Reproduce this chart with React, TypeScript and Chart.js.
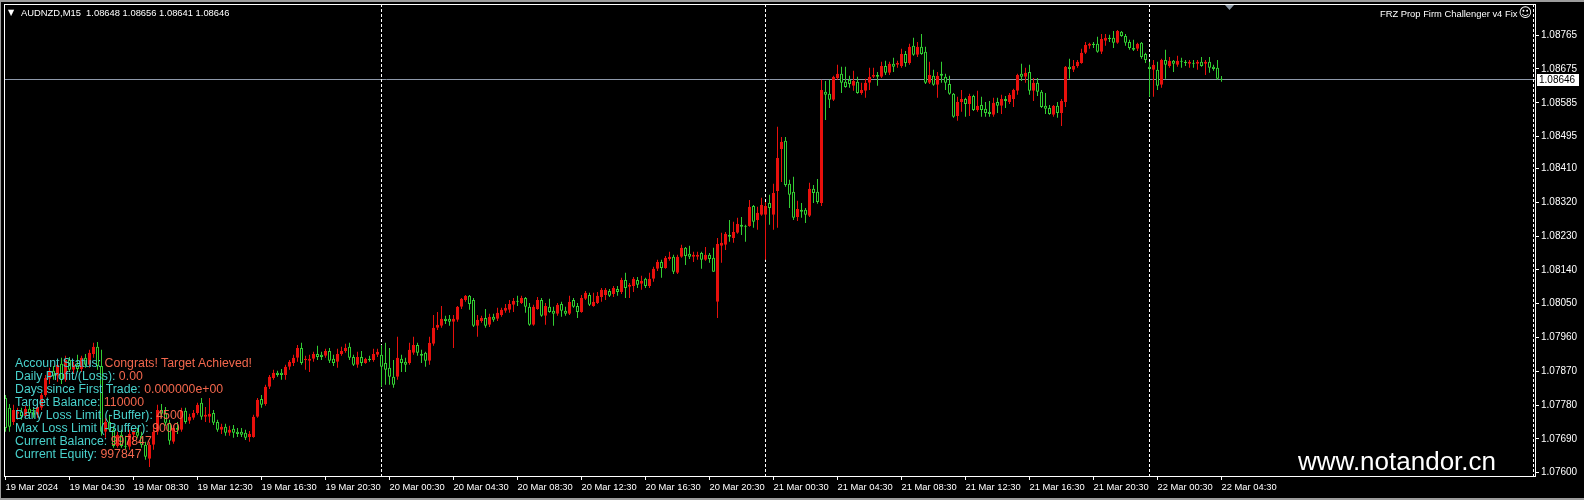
import React, { useEffect, useRef } from "react";
import { Chart, registerables } from "chart.js";

Chart.register(...registerables);

// AUDNZD M15 candles, 19 Mar 2024 00:30 .. 22 Mar 2024 04:30
const opens = [
  1.07799,1.07773,1.07735,1.07757,1.07762,1.07751,1.07770,1.07759,1.07754,1.07773,
  1.07807,1.07850,1.07871,1.07858,1.07890,1.07847,1.07900,1.07874,1.07887,1.07876,
  1.07906,1.07887,1.07916,1.07935,1.07884,1.07709,1.07735,1.07714,1.07671,1.07701,
  1.07671,1.07669,1.07701,1.07709,1.07698,1.07674,1.07637,1.07674,1.07709,1.07767,
  1.07759,1.07733,1.07682,1.07719,1.07714,1.07765,1.07738,1.07746,1.07759,1.07786,
  1.07749,1.07749,1.07759,1.07735,1.07714,1.07722,1.07706,1.07717,1.07709,1.07709,
  1.07706,1.07695,1.07695,1.07749,1.07796,1.07783,1.07829,1.07852,1.07866,1.07866,
  1.07860,1.07882,1.07892,1.07906,1.07932,1.07900,1.07898,1.07903,1.07916,1.07914,
  1.07911,1.07924,1.07903,1.07895,1.07916,1.07924,1.07935,1.07908,1.07887,1.07908,
  1.07892,1.07903,1.07900,1.07914,1.07914,1.07892,1.07879,1.07855,1.07855,1.07903,
  1.07895,1.07892,1.07919,1.07940,1.07916,1.07919,1.07898,1.07943,1.07986,1.07991,
  1.08010,1.08010,1.08002,1.08007,1.08042,1.08060,1.08071,1.08060,1.07991,1.08004,
  1.08012,1.07994,1.08015,1.08010,1.08020,1.08031,1.08034,1.08047,1.08057,1.08052,
  1.08065,1.08042,1.07994,1.08036,1.08060,1.08018,1.08042,1.08031,1.08023,1.08049,
  1.08031,1.08023,1.08060,1.08044,1.08028,1.08063,1.08073,1.08044,1.08052,1.08068,
  1.08073,1.08084,1.08076,1.08089,1.08081,1.08113,1.08095,1.08097,1.08113,1.08103,
  1.08116,1.08097,1.08116,1.08143,1.08161,1.08145,1.08169,1.08175,1.08132,1.08175,
  1.08199,1.08183,1.08175,1.08175,1.08185,1.08167,1.08180,1.08172,1.08055,1.08204,
  1.08207,1.08233,1.08225,1.08239,1.08260,1.08257,1.08257,1.08310,1.08273,1.08287,
  1.08287,1.08318,1.08287,1.08350,1.08462,1.08484,1.08369,1.08348,1.08281,1.08300,
  1.08300,1.08284,1.08356,1.08348,1.08318,1.08614,1.08609,1.08593,1.08651,1.08662,
  1.08641,1.08646,1.08630,1.08641,1.08611,1.08617,1.08638,1.08654,1.08659,1.08654,
  1.08683,1.08665,1.08689,1.08686,1.08683,1.08715,1.08691,1.08737,1.08713,1.08734,
  1.08721,1.08638,1.08657,1.08633,1.08662,1.08654,1.08635,1.08609,1.08550,1.08587,
  1.08595,1.08582,1.08603,1.08566,1.08579,1.08569,1.08561,1.08553,1.08587,1.08577,
  1.08595,1.08587,1.08595,1.08617,1.08662,1.08654,1.08667,1.08617,1.08638,1.08614,
  1.08577,1.08571,1.08553,1.08577,1.08558,1.08587,1.08681,1.08673,1.08683,1.08691,
  1.08718,1.08737,1.08742,1.08742,1.08721,1.08750,1.08758,1.08758,1.08745,1.08774,
  1.08763,1.08747,1.08731,1.08729,1.08745,1.08715,1.08681,1.08673,1.08673,1.08633,
  1.08699,1.08683,1.08697,1.08686,1.08697,1.08694,1.08689,1.08691,1.08689,1.08694,
  1.08689,1.08694,1.08681,1.08678,1.08648,
];

const highs = [
  1.07807,1.07783,1.07781,1.07773,1.07773,1.07778,1.07781,1.07775,1.07783,1.07812,
  1.07860,1.07879,1.07884,1.07900,1.07906,1.07911,1.07908,1.07895,1.07914,1.07911,
  1.07916,1.07927,1.07946,1.07948,1.07927,1.07746,1.07754,1.07725,1.07709,1.07714,
  1.07698,1.07714,1.07714,1.07719,1.07709,1.07682,1.07682,1.07719,1.07781,1.07783,
  1.07775,1.07741,1.07727,1.07735,1.07773,1.07773,1.07757,1.07767,1.07786,1.07799,
  1.07775,1.07799,1.07767,1.07741,1.07730,1.07730,1.07725,1.07727,1.07719,1.07719,
  1.07714,1.07711,1.07754,1.07799,1.07807,1.07834,1.07860,1.07874,1.07871,1.07876,
  1.07887,1.07900,1.07914,1.07940,1.07946,1.07911,1.07914,1.07922,1.07938,1.07922,
  1.07930,1.07932,1.07914,1.07930,1.07935,1.07943,1.07946,1.07914,1.07922,1.07924,
  1.07906,1.07911,1.07930,1.07930,1.07940,1.07946,1.07932,1.07900,1.07962,1.07914,
  1.07906,1.07946,1.07962,1.07946,1.07927,1.07922,1.07962,1.08020,1.08028,1.08044,
  1.08018,1.08020,1.08020,1.08044,1.08065,1.08073,1.08073,1.08065,1.08020,1.08018,
  1.08036,1.08023,1.08023,1.08039,1.08039,1.08049,1.08060,1.08065,1.08071,1.08071,
  1.08068,1.08052,1.08047,1.08068,1.08065,1.08052,1.08063,1.08042,1.08052,1.08055,
  1.08042,1.08071,1.08065,1.08052,1.08073,1.08084,1.08079,1.08079,1.08081,1.08092,
  1.08092,1.08089,1.08097,1.08097,1.08119,1.08132,1.08105,1.08121,1.08121,1.08124,
  1.08119,1.08132,1.08148,1.08167,1.08167,1.08177,1.08188,1.08180,1.08180,1.08207,
  1.08201,1.08204,1.08188,1.08188,1.08188,1.08201,1.08185,1.08199,1.08225,1.08239,
  1.08241,1.08273,1.08268,1.08279,1.08281,1.08260,1.08326,1.08313,1.08308,1.08332,
  1.08321,1.08340,1.08369,1.08521,1.08494,1.08494,1.08380,1.08388,1.08324,1.08318,
  1.08305,1.08372,1.08366,1.08382,1.08646,1.08643,1.08646,1.08657,1.08686,1.08681,
  1.08681,1.08657,1.08670,1.08654,1.08638,1.08649,1.08678,1.08678,1.08667,1.08694,
  1.08697,1.08694,1.08705,1.08697,1.08729,1.08723,1.08742,1.08758,1.08747,1.08768,
  1.08734,1.08694,1.08673,1.08667,1.08694,1.08662,1.08657,1.08611,1.08601,1.08619,
  1.08598,1.08609,1.08606,1.08617,1.08601,1.08587,1.08590,1.08598,1.08598,1.08606,
  1.08603,1.08611,1.08622,1.08662,1.08689,1.08678,1.08686,1.08651,1.08651,1.08619,
  1.08611,1.08579,1.08579,1.08587,1.08595,1.08683,1.08702,1.08699,1.08699,1.08729,
  1.08747,1.08745,1.08747,1.08761,1.08768,1.08768,1.08766,1.08776,1.08779,1.08776,
  1.08768,1.08753,1.08753,1.08745,1.08747,1.08718,1.08694,1.08699,1.08694,1.08702,
  1.08726,1.08707,1.08699,1.08710,1.08705,1.08699,1.08699,1.08699,1.08699,1.08707,
  1.08699,1.08707,1.08686,1.08699,1.08656,
];

const lows = [
  1.07709,1.07709,1.07727,1.07741,1.07741,1.07746,1.07751,1.07746,1.07746,1.07767,
  1.07802,1.07836,1.07847,1.07842,1.07836,1.07842,1.07868,1.07863,1.07868,1.07868,
  1.07879,1.07879,1.07906,1.07874,1.07698,1.07693,1.07709,1.07666,1.07666,1.07666,
  1.07663,1.07661,1.07682,1.07693,1.07666,1.07634,1.07615,1.07661,1.07701,1.07746,
  1.07725,1.07674,1.07677,1.07703,1.07709,1.07730,1.07730,1.07741,1.07754,1.07741,
  1.07735,1.07733,1.07727,1.07709,1.07703,1.07698,1.07698,1.07693,1.07695,1.07695,
  1.07687,1.07682,1.07693,1.07746,1.07773,1.07778,1.07823,1.07847,1.07855,1.07847,
  1.07847,1.07874,1.07884,1.07895,1.07887,1.07874,1.07868,1.07895,1.07900,1.07900,
  1.07906,1.07892,1.07884,1.07879,1.07911,1.07919,1.07900,1.07884,1.07879,1.07884,
  1.07890,1.07895,1.07895,1.07908,1.07829,1.07834,1.07834,1.07826,1.07847,1.07868,
  1.07868,1.07887,1.07914,1.07911,1.07892,1.07882,1.07887,1.07938,1.07980,1.07986,
  1.07996,1.07991,1.07932,1.08002,1.08036,1.08055,1.08034,1.07988,1.07962,1.07999,
  1.07986,1.07988,1.08002,1.08004,1.08015,1.08026,1.08026,1.08028,1.08044,1.08049,
  1.08026,1.07991,1.07991,1.08034,1.08015,1.07994,1.08026,1.07991,1.08018,1.08015,
  1.08018,1.08020,1.08039,1.08012,1.08026,1.08060,1.08044,1.08042,1.08049,1.08055,
  1.08060,1.08068,1.08068,1.08071,1.08076,1.08065,1.08065,1.08081,1.08092,1.08087,
  1.08092,1.08092,1.08108,1.08137,1.08119,1.08143,1.08164,1.08129,1.08129,1.08172,
  1.08153,1.08169,1.08161,1.08167,1.08143,1.08164,1.08159,1.08135,1.08012,1.08159,
  1.08193,1.08215,1.08212,1.08236,1.08233,1.08215,1.08255,1.08252,1.08247,1.08284,
  1.08167,1.08260,1.08247,1.08252,1.08374,1.08361,1.08305,1.08273,1.08270,1.08279,
  1.08265,1.08281,1.08318,1.08316,1.08310,1.08539,1.08571,1.08590,1.08646,1.08611,
  1.08625,1.08625,1.08617,1.08609,1.08606,1.08598,1.08619,1.08651,1.08630,1.08651,
  1.08659,1.08659,1.08667,1.08678,1.08678,1.08681,1.08686,1.08710,1.08707,1.08713,
  1.08635,1.08635,1.08630,1.08598,1.08638,1.08619,1.08606,1.08545,1.08537,1.08561,
  1.08548,1.08550,1.08563,1.08561,1.08548,1.08548,1.08548,1.08548,1.08558,1.08555,
  1.08571,1.08582,1.08574,1.08606,1.08643,1.08638,1.08606,1.08590,1.08603,1.08571,
  1.08555,1.08553,1.08548,1.08545,1.08523,1.08574,1.08649,1.08667,1.08678,1.08689,
  1.08715,1.08729,1.08731,1.08718,1.08715,1.08737,1.08747,1.08731,1.08742,1.08761,
  1.08737,1.08726,1.08723,1.08723,1.08702,1.08691,1.08601,1.08601,1.08619,1.08625,
  1.08649,1.08678,1.08667,1.08681,1.08678,1.08683,1.08678,1.08678,1.08673,1.08681,
  1.08659,1.08665,1.08670,1.08646,1.08641,
];

const closes = [
  1.07719,1.07722,1.07767,1.07762,1.07751,1.07770,1.07759,1.07754,1.07775,1.07807,
  1.07852,1.07871,1.07858,1.07887,1.07847,1.07900,1.07874,1.07887,1.07876,1.07906,
  1.07887,1.07919,1.07935,1.07884,1.07709,1.07735,1.07714,1.07671,1.07701,1.07671,
  1.07669,1.07703,1.07709,1.07698,1.07674,1.07642,1.07674,1.07709,1.07767,1.07757,
  1.07733,1.07685,1.07719,1.07714,1.07765,1.07735,1.07749,1.07759,1.07781,1.07749,
  1.07754,1.07757,1.07733,1.07714,1.07722,1.07706,1.07714,1.07706,1.07703,1.07701,
  1.07693,1.07703,1.07749,1.07794,1.07781,1.07829,1.07855,1.07866,1.07860,1.07860,
  1.07882,1.07895,1.07906,1.07932,1.07892,1.07903,1.07903,1.07916,1.07908,1.07908,
  1.07924,1.07898,1.07892,1.07916,1.07924,1.07932,1.07906,1.07887,1.07908,1.07892,
  1.07903,1.07900,1.07916,1.07922,1.07882,1.07874,1.07855,1.07834,1.07906,1.07892,
  1.07887,1.07927,1.07940,1.07919,1.07911,1.07898,1.07946,1.07986,1.07994,1.08010,
  1.08004,1.08002,1.08010,1.08042,1.08063,1.08071,1.08049,1.07991,1.08007,1.08012,
  1.07991,1.08015,1.08007,1.08026,1.08034,1.08039,1.08049,1.08057,1.08055,1.08065,
  1.08042,1.07994,1.08042,1.08060,1.08018,1.08044,1.08028,1.08023,1.08047,1.08031,
  1.08023,1.08055,1.08042,1.08028,1.08065,1.08079,1.08047,1.08055,1.08071,1.08087,
  1.08087,1.08071,1.08092,1.08081,1.08113,1.08092,1.08100,1.08116,1.08100,1.08111,
  1.08097,1.08116,1.08143,1.08161,1.08145,1.08172,1.08175,1.08135,1.08175,1.08199,
  1.08177,1.08175,1.08180,1.08180,1.08167,1.08180,1.08169,1.08135,1.08209,1.08212,
  1.08236,1.08228,1.08241,1.08262,1.08255,1.08255,1.08308,1.08268,1.08292,1.08313,
  1.08310,1.08305,1.08345,1.08438,1.08481,1.08366,1.08340,1.08279,1.08302,1.08295,
  1.08287,1.08356,1.08345,1.08321,1.08619,1.08606,1.08593,1.08654,1.08662,1.08638,
  1.08627,1.08635,1.08643,1.08611,1.08619,1.08638,1.08654,1.08659,1.08654,1.08683,
  1.08665,1.08689,1.08681,1.08691,1.08715,1.08691,1.08734,1.08713,1.08734,1.08715,
  1.08638,1.08659,1.08633,1.08657,1.08657,1.08638,1.08609,1.08548,1.08587,1.08595,
  1.08582,1.08603,1.08566,1.08577,1.08566,1.08558,1.08555,1.08585,1.08577,1.08595,
  1.08590,1.08606,1.08619,1.08659,1.08654,1.08665,1.08617,1.08638,1.08614,1.08574,
  1.08569,1.08555,1.08577,1.08558,1.08590,1.08681,1.08675,1.08683,1.08694,1.08718,
  1.08739,1.08742,1.08739,1.08721,1.08755,1.08758,1.08755,1.08745,1.08776,1.08763,
  1.08745,1.08731,1.08726,1.08742,1.08707,1.08699,1.08675,1.08686,1.08630,1.08699,
  1.08686,1.08697,1.08689,1.08697,1.08694,1.08691,1.08694,1.08689,1.08694,1.08683,
  1.08694,1.08678,1.08675,1.08649,1.08646,
];

const xTickIndex = [0, 16, 32, 48, 64, 80, 96, 112, 128, 144, 160, 176, 192, 208, 224, 240, 256, 272, 288, 304];
const xTickLabels = [
  "19 Mar 2024", "19 Mar 04:30", "19 Mar 08:30", "19 Mar 12:30", "19 Mar 16:30", "19 Mar 20:30",
  "20 Mar 00:30", "20 Mar 04:30", "20 Mar 08:30", "20 Mar 12:30", "20 Mar 16:30", "20 Mar 20:30",
  "21 Mar 00:30", "21 Mar 04:30", "21 Mar 08:30", "21 Mar 12:30", "21 Mar 16:30", "21 Mar 20:30",
  "22 Mar 00:30", "22 Mar 04:30",
];
const yTickValues = [
  1.076, 1.0769, 1.0778, 1.0787, 1.0796, 1.0805, 1.0814, 1.0823, 1.0832, 1.0841,
  1.08495, 1.08585, 1.08675, 1.08765,
];
const daySeparators = [94, 190, 286, 382];
const shiftMarkerIndex = 306;

const headerText = "AUDNZD,M15  1.08648 1.08656 1.08641 1.08646";
const indicatorName = "FRZ Prop Firm Challenger v4 Fix";
const infoLabels = [
  "Account Status:", "Daily Profit/(Loss):", "Days since First Trade:", "Target Balance:",
  "Daily Loss Limit (-Buffer):", "Max Loss Limit (-Buffer):", "Current Balance:", "Current Equity:",
];
const infoValues = [
  "Congrats! Target Achieved!", "0.00", "0.000000e+00", "110000", "4500", "9000", "997847", "997847",
];
const watermark = "www.notandor.cn";

const UP = "#e8100c";
const DOWN = "#32cd32";
const FONT = "'Liberation Sans', Arial, sans-serif";

const mt4Plugin = {
  id: "mt4",
  beforeDraw(chart: any) {
    const { ctx, width, height } = chart;
    ctx.save();
    ctx.fillStyle = "#000";
    ctx.fillRect(0, 0, width, height);
    ctx.restore();
  },
  beforeDatasetsDraw(chart: any) {
    const { ctx, chartArea: a, scales } = chart;
    const x = scales.x;
    const y = scales.y;
    ctx.save();
    const last = closes[closes.length - 1];
    const yp = Math.floor(y.getPixelForValue(last)) + 0.5;
    ctx.strokeStyle = "#8e99aa";
    ctx.lineWidth = 1;
    ctx.beginPath();
    ctx.moveTo(a.left, yp);
    ctx.lineTo(a.right, yp);
    ctx.stroke();
    ctx.strokeStyle = "#ffffff";
    ctx.setLineDash([3, 2]);
    daySeparators.forEach((d) => {
      const xp = Math.floor(x.getPixelForValue(d)) + 0.5;
      ctx.beginPath();
      ctx.moveTo(xp, a.top);
      ctx.lineTo(xp, a.bottom);
      ctx.stroke();
    });
    ctx.restore();
  },
  afterDraw(chart: any) {
    const { ctx, chartArea: a, scales } = chart;
    const x = scales.x;
    const y = scales.y;
    ctx.save();
    ctx.strokeStyle = "#ffffff";
    ctx.lineWidth = 1;
    ctx.beginPath();
    ctx.moveTo(a.left, a.top + 0.5);
    ctx.lineTo(a.right + 1, a.top + 0.5);
    ctx.moveTo(a.left + 0.5, a.top);
    ctx.lineTo(a.left + 0.5, a.bottom);
    ctx.stroke();
    const last = closes[closes.length - 1];
    const yp = y.getPixelForValue(last);
    ctx.fillStyle = "#ffffff";
    ctx.fillRect(a.right + 2, Math.round(yp) - 6, 42, 12);
    ctx.fillStyle = "#000000";
    ctx.font = "10px " + FONT;
    ctx.textBaseline = "middle";
    ctx.textAlign = "left";
    ctx.fillText(last.toFixed(5), a.right + 4, Math.round(yp));
    const sx = Math.floor(x.getPixelForValue(shiftMarkerIndex)) + 0.5;
    ctx.fillStyle = "#8a96a3";
    ctx.beginPath();
    ctx.moveTo(sx - 4.5, a.top + 1);
    ctx.lineTo(sx + 4.5, a.top + 1);
    ctx.lineTo(sx, a.top + 6);
    ctx.closePath();
    ctx.fill();
    ctx.restore();
  },
};

export default function App() {
  const ref = useRef<HTMLCanvasElement>(null);

  useEffect(() => {
    const canvas = ref.current;
    if (!canvas) return;
    const idx = opens.map((_, i) => i);
    const isUp = idx.map((i) => closes[i] >= opens[i]);
    const chart = new Chart(canvas, {
      type: "bar",
      data: {
        datasets: [
          {
            label: "wick",
            data: idx.map((i) => ({ x: i, y: [lows[i], highs[i]] })) as any,
            backgroundColor: idx.map((i) => (isUp[i] ? UP : DOWN)),
            borderWidth: 0,
            barThickness: 1,
            grouped: false,
            inflateAmount: 0,
            order: 2,
          } as any,
          {
            label: "body",
            data: idx.map((i) => ({ x: i, y: [opens[i], closes[i]] })) as any,
            backgroundColor: idx.map((i) => (isUp[i] ? UP : "#000000")),
            borderColor: idx.map((i) => (isUp[i] ? UP : DOWN)),
            borderWidth: 1,
            borderSkipped: false,
            barThickness: 3,
            minBarLength: 1,
            grouped: false,
            inflateAmount: 0,
            order: 1,
          } as any,
        ],
      },
      options: {
        animation: false,
        responsive: false,
        devicePixelRatio: 1,
        events: [],
        layout: { padding: { left: 4, top: 4, right: 0, bottom: 0 } },
        plugins: { legend: { display: false }, tooltip: { enabled: false } },
        scales: {
          x: {
            type: "linear",
            position: "bottom",
            min: -0.375,
            max: 382.375,
            offset: false,
            bounds: "data",
            afterBuildTicks: (s: any) => {
              s.ticks = xTickIndex.map((v) => ({ value: v }));
            },
            afterFit: (s: any) => {
              s.height = 24;
              s.paddingLeft = 0;
              s.paddingRight = 0;
            },
            ticks: {
              autoSkip: false,
              maxRotation: 0,
              minRotation: 0,
              align: "start",
              labelOffset: 0,
              padding: 2,
              color: "#ffffff",
              font: { family: FONT, size: 9.4 },
              callback: (v: any) => {
                const k = xTickIndex.indexOf(Number(v));
                return k >= 0 ? xTickLabels[k] : "";
              },
            },
            grid: { drawOnChartArea: false, drawTicks: true, tickLength: 4, color: "#ffffff", offset: false },
            border: { display: true, color: "#ffffff" },
          },
          y: {
            type: "linear",
            position: "right",
            min: 1.07591,
            max: 1.08848,
            bounds: "data",
            afterBuildTicks: (s: any) => {
              s.ticks = yTickValues.map((v) => ({ value: v }));
            },
            afterFit: (s: any) => {
              s.width = 49;
              s.paddingTop = 0;
              s.paddingBottom = 0;
            },
            ticks: {
              color: "#ffffff",
              padding: 2,
              font: { family: FONT, size: 10 },
              callback: (v: any) => Number(v).toFixed(5),
            },
            grid: { drawOnChartArea: false, drawTicks: true, tickLength: 4, color: "#ffffff" },
            border: { display: true, color: "#ffffff" },
          },
        },
      } as any,
      plugins: [mt4Plugin],
    });
    return () => chart.destroy();
  }, []);

  return (
    <div
      style={{
        position: "absolute",
        left: 0,
        top: 0,
        width: 1584,
        height: 500,
        background: "#000",
        overflow: "hidden",
        fontFamily: FONT,
      }}
    >
      <canvas ref={ref} width={1584} height={500} style={{ position: "absolute", left: 0, top: 0, width: 1584, height: 500 }} />
      <div style={{ position: "absolute", left: 0, top: 0, width: 1584, height: 2, background: "#9c9c9c" }} />
      <div style={{ position: "absolute", left: 0, top: 0, width: 1, height: 500, background: "#9c9c9c" }} />
      <div style={{ position: "absolute", left: 0, top: 498, width: 1584, height: 2, background: "#9c9c9c" }} />
      <div style={{ position: "absolute", left: 8, top: 7, color: "#fff", fontSize: 8, lineHeight: "11px", fontFamily: "'DejaVu Sans', sans-serif" }}>▼</div>
      <div style={{ position: "absolute", left: 21, top: 7, color: "#fff", fontSize: 9.4, lineHeight: "11px", whiteSpace: "pre" }}>
        {headerText}
      </div>
      <div style={{ position: "absolute", right: 52, top: 7, color: "#fff", fontSize: 9.4, lineHeight: "11px", whiteSpace: "pre" }}>
        {indicatorName}
        <span style={{ fontFamily: "'DejaVu Sans', sans-serif", fontSize: 13, lineHeight: "11px", marginLeft: 1 }}>☺</span>
      </div>
      <div style={{ position: "absolute", left: 15, top: 357, fontSize: 12.3, lineHeight: "13px", whiteSpace: "pre" }}>
        {infoLabels.map((l, i) => (
          <div key={i}>
            <span style={{ color: "#48d1cc" }}>{l}</span>
            <span style={{ color: "#f2674d" }}>{" " + infoValues[i]}</span>
          </div>
        ))}
      </div>
      <div style={{ position: "absolute", left: 1298, top: 448, color: "#fff", fontSize: 26, lineHeight: "26px", whiteSpace: "pre" }}>
        {watermark}
      </div>
    </div>
  );
}
